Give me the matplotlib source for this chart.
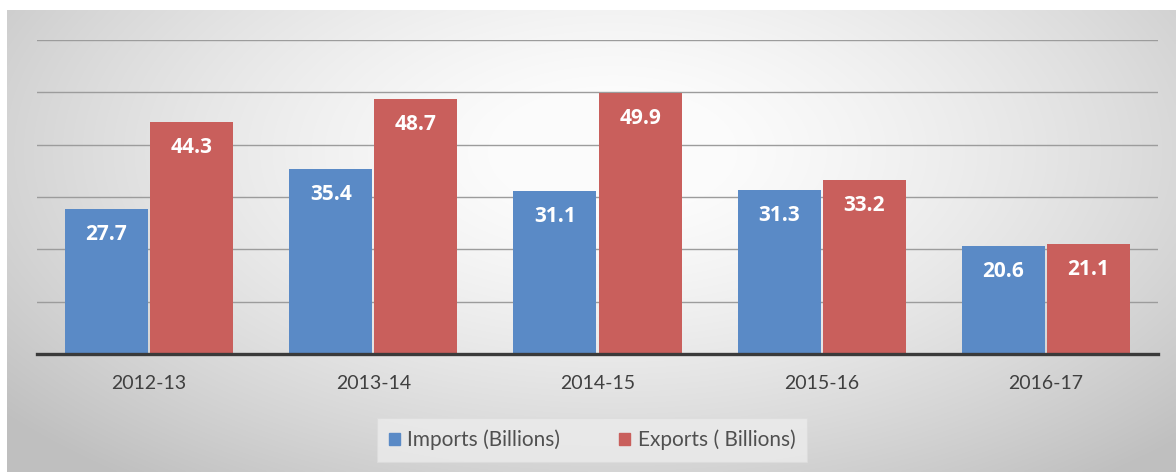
import numpy as np
import matplotlib
matplotlib.use("Agg")
import matplotlib.pyplot as plt
from matplotlib.patches import Rectangle

years = ["2012-13", "2013-14", "2014-15", "2015-16", "2016-17"]
imports = [27.7, 35.4, 31.1, 31.3, 20.6]
exports = [44.3, 48.7, 49.9, 33.2, 21.1]
series_names = ["Imports (Billions)", "Exports ( Billions)"]

blue = "#5a8ac6"
red = "#c95f5c"
text_grey = "#404040"
font = "Lato"

W, H = 1176, 472
fig = plt.figure(figsize=(W / 100, H / 100), dpi=100)

# radial grey background panel
bg = fig.add_axes([7 / W, 0, (W - 7) / W, (H - 10) / H])
bg.set_axis_off()
yy, xx = np.mgrid[0:230, 0:580]
cx, cy = 300, 70
r = np.sqrt(((xx - cx) / 360.0) ** 2 + ((yy - cy) / 190.0) ** 2)
shade = np.clip(1.0 - 0.22 * r ** 1.5, 0.75, 0.985)
bg.imshow(np.dstack([shade] * 3), aspect="auto", extent=[0, 1, 0, 1], interpolation="bilinear")
bg.set_xlim(0, 1)
bg.set_ylim(0, 1)

# plot area
x0, x1 = 37, 1158
y_base, y_top = 354, 40
ax = fig.add_axes([x0 / W, (H - y_base) / H, (x1 - x0) / W, (y_base - y_top) / H])
ax.patch.set_alpha(0)
ax.set_ylim(0, 60)
ax.set_xlim(-0.5, len(years) - 0.5)

x = np.arange(len(years))
bw = 0.37
gap = 0.005
b1 = ax.bar(x - bw / 2 - gap, imports, width=bw, color=blue, zorder=3)
b2 = ax.bar(x + bw / 2 + gap, exports, width=bw, color=red, zorder=3)

for bars, vals in ((b1, imports), (b2, exports)):
    for rect, v in zip(bars, vals):
        ax.text(rect.get_x() + rect.get_width() / 2, v - 4.9, f"{v:.1f}",
                ha="center", va="center", color="white", fontsize=15,
                fontweight="bold", family="Open Sans", zorder=4)

ax.set_yticks(np.arange(10, 61, 10))
ax.yaxis.grid(True, color="#9c9c9c", linewidth=1.0, zorder=0)
ax.tick_params(axis="y", left=False, labelleft=False)
ax.set_xticks(x)
ax.set_xticklabels(years, fontsize=14, color=text_grey, family=font)
ax.tick_params(axis="x", length=0, pad=15)
for s in ("top", "right", "left"):
    ax.spines[s].set_visible(False)
ax.spines["bottom"].set_color("#3a3a3a")
ax.spines["bottom"].set_linewidth(2.4)
ax.spines["bottom"].set_zorder(5)

# legend
leg = fig.legend([Rectangle((0, 0), 1, 1, color=blue), Rectangle((0, 0), 1, 1, color=red)],
                 series_names, loc="center", bbox_to_anchor=(592 / W, 1 - 440 / H),
                 ncol=2, frameon=True, fancybox=False, handlelength=0.55, handleheight=0.55,
                 handletextpad=0.35, columnspacing=2.8, borderpad=0.55, borderaxespad=0,
                 prop={"family": font, "size": 15})
leg.get_frame().set_facecolor("#ececec")
leg.get_frame().set_edgecolor("#dcdcdc")
leg.get_frame().set_linewidth(0.8)
for t in leg.get_texts():
    t.set_color("#505050")

fig.savefig("out.png", dpi=100)
